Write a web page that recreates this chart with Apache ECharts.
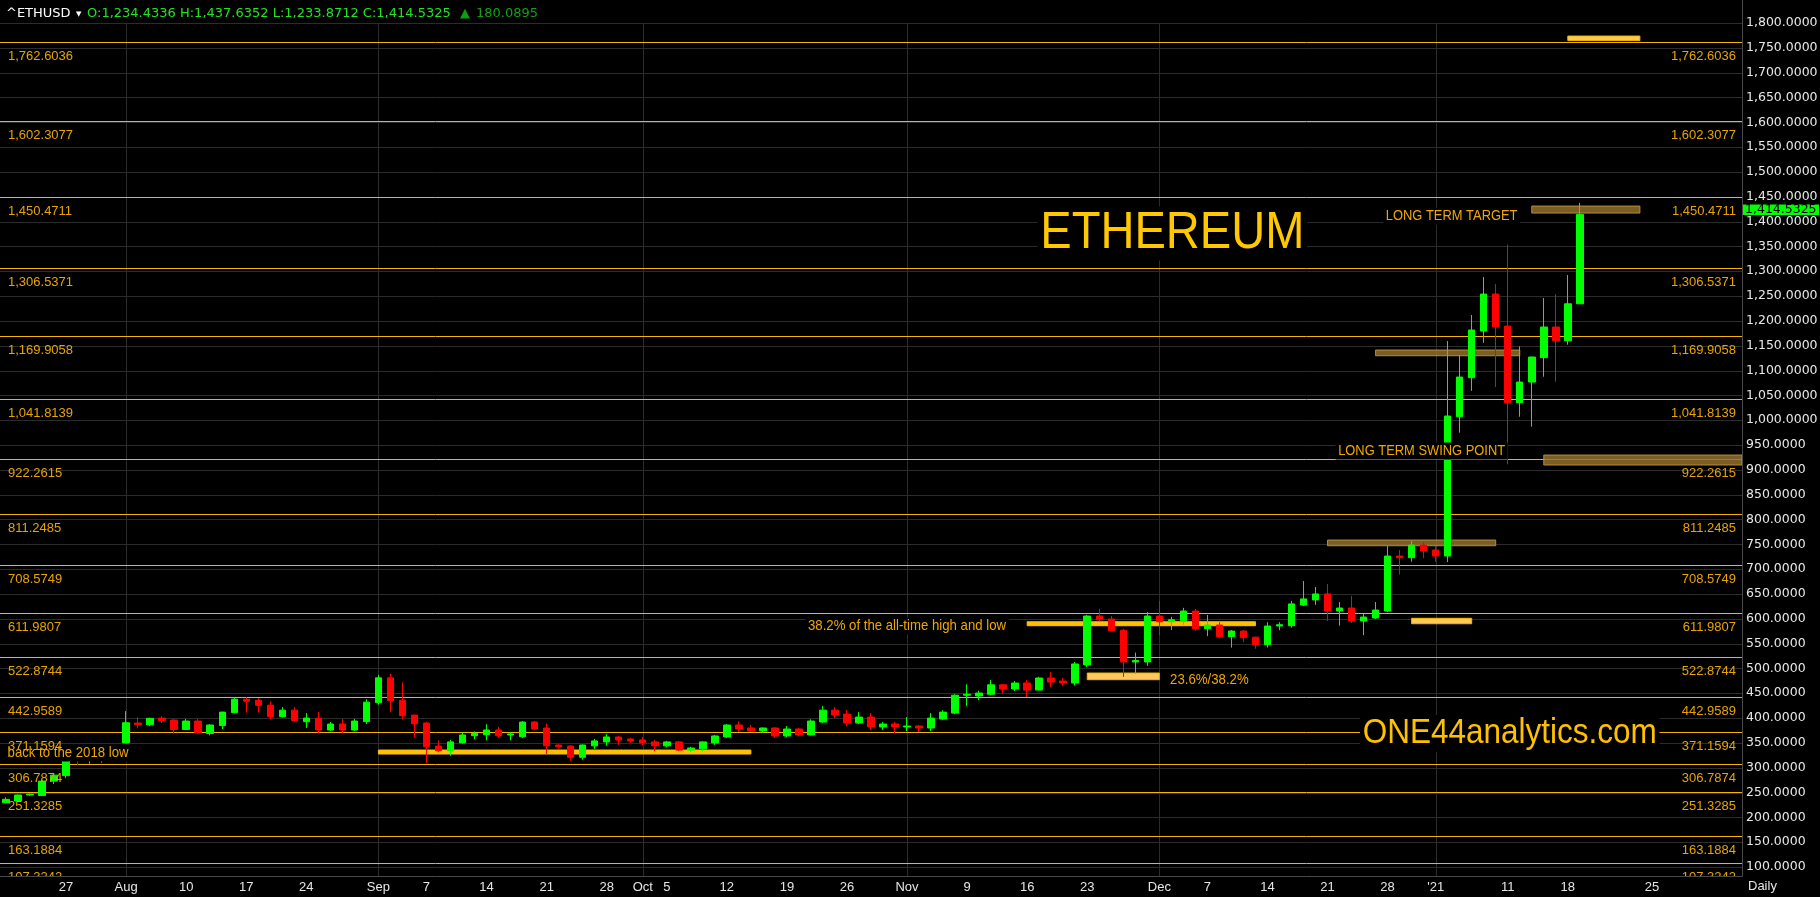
<!DOCTYPE html>
<html>
<head>
<meta charset="utf-8">
<script src="https://cdn.jsdelivr.net/npm/echarts@6/dist/echarts.min.js"></script>
<style>html,body{margin:0;padding:0;background:#000;}#c{width:1820px;height:897px;}</style>
</head>
<body>
<div id="c"></div>
<script>
// ---------- DATA ----------
const symbol = '^ETHUSD';
// daily candles (weekdays) 2020-07-20 .. 2021-01-19, then calendar days for the empty right margin
const firstDate = '2020-07-20';
const candleCount = 132;
const futureDays = 13;

const open = [229.4,233,245,244,273,284,330,318,324,330,
350,390,386.6,400,396,377,394,369,385,411,
438,435.7,426,403,416,392.7,399.5,376,388,376,
393,431,481,436,406,390,343.7,334,350,364.5,
366.5,376,366,362.4,392,380,345.7,343.7,321,344,
352,361.8,357.8,356,352,344,352,335.6,338,350,
362,386,380,374,380,364,378,366,392,416,
408,390,402,382,388,382,384,380,398,410,
446,444.5,448,467,458.5,470.6,456.5,480.7,474.6,470.6,
507,605.5,599.5,577,513,513,605.5,594,596,615.6,
580,587.4,564,575.3,563,548,585.4,586,627.7,638,
650,615.6,621.7,595.5,601.5,615.6,726.4,723,748.5,738.5,
726.4,1007,1085.5,1179.5,1254,1189.6,1035.2,1076.8,1126,1187.6,
1160,1234.4336];
const close = [236.3,245,246.5,273,285,313.5,318,326,332,338,
390.6,387,399.5,395,377,394,370.5,386,412,438,
434,425.7,403,416,395,400,376,388,376,394,
432,481,435,405,388.6,342.3,334.2,352,366,369,
376,364.5,368,392,378,344.3,342.3,321,345.7,354,
362,355.8,354,350,344.3,352,335.6,339.7,352,364,
386,378,374,380,364,378,366,394,416,406,
390,402,382,388,382,384,380,400,412,446,
448,450.5,467,458.5,470.6,456.5,480.7,472.6,470.6,509,
605.5,598,576,513,516,605.5,594,598,615.6,580,
587.4,564,575.3,562,548,585.4,588,630,640,650,
615.6,621.7,595.5,603.5,617.6,726.4,723,748.5,736.5,726.4,
1008.4,1086.9,1181.6,1254,1188,1035.2,1076.8,1127.2,1187.6,1160,
1234.443,1414.5325];
const low = [228.3,232,244,243,267,279,305,308,310,318,
349,379,384,390,369,376,369,365,378,410,
411,411,397,401,392,380,370,374,370,374,
388,427,412,397,361,309,331,324,349,357,
355,360,355,360,376,327.6,338,314,316,338,
344,346,350,345,333,341,333.6,331.6,333,346,
360,372,372,371,360,361,364,365,390,400,
383.6,388,376,376,370,374,372,374,396,408,
424,436,446,450,454.6,442,456,462,465,466,
502.8,595,574,483,489,505,567,577.3,588,576,
565,561,542,553,539.6,542,577,582,625.6,628,
595.5,586,591.5,567,599.5,613.6,689.2,714.9,722,714.9,
714.3,974.7,1059,1156,1067,911,1007,986.8,1087.5,1077.5,
1152,1233.8712];
const high = [240.4,246,248,275,286,315,338,334,338,340,
414,401.5,400.5,404,398,398,398,388,413,442,
442,440,434,422,422,410,412,392,398,398,
438,487,489,472,406,392.7,355,356,371,373,
387.6,382,372,394,394,389,347,345.5,347,358,
368,364,360,362,356,354,354,342,353,366,
388,393.5,386,381,382,384,380,397.5,424,422,
416,412,410,392,392,402,386,410,416,448,
468,455,476.7,468.6,474.7,476.7,483,493,480.7,513,
607.6,620,605.5,580,532,613.6,635.7,604,622,620,
607.6,593,577.3,577.3,564,593,593,636,676,664,
670,633.7,646,609.6,633.7,746.6,738.5,756.6,754.6,746.6,
1159.4,1131,1211.8,1288.3,1274,1353.6,1148.6,1128,1246,1254,
1292.3,1437.6352];

// right price axis ticks
const yTicks = [100,150,200,250,300,350,400,450,500,550,600,650,700,750,800,850,900,950,1000,
1050,1100,1150,1200,1250,1300,1350,1400,1450,1500,1550,1600,1650,1700,1750,1800];

// x axis tick labels (date -> text)
const xTickDates = ['2020-07-27','2020-08-03','2020-08-10','2020-08-17','2020-08-24','2020-09-01','2020-09-07',
'2020-09-14','2020-09-21','2020-09-28','2020-10-01','2020-10-05','2020-10-12','2020-10-19','2020-10-26',
'2020-11-02','2020-11-09','2020-11-16','2020-11-23','2020-12-01','2020-12-07','2020-12-14','2020-12-21',
'2020-12-28','2021-01-01','2021-01-11','2021-01-18','2021-01-25'];
const xTickTexts = ['27','Aug','10','17','24','Sep','7','14','21','28','Oct','5','12','19','26',
'Nov','9','16','23','Dec','7','14','21','28',"'21",'11','18','25'];

// month separators
const monthStarts = ['2020-08-03','2020-09-01','2020-10-01','2020-11-02','2020-12-01','2021-01-01'];

// fibonacci levels
const fibLevels = [1762.6036,1602.3077,1450.4711,1306.5371,1169.9058,1041.8139,922.2615,811.2485,
708.5749,611.9807,522.8744,442.9589,371.1594,306.7874,251.3285,163.1884,107.3242];

// zone bars: start date, end date (null = right edge), low, high, kind
const zoneStart = ['2021-01-13','2020-12-25','2021-01-14','2020-12-21','2020-09-01','2020-11-16','2021-01-18','2020-12-30','2020-11-23'];
const zoneEnd   = ['2021-01-24','2021-01-12',null,'2021-01-08','2020-10-14','2020-12-11','2021-01-24','2021-01-06','2020-12-01'];
const zoneLow   = [1417.2,1129.8,909.7,747.1,327.6,586,1764.6,590,477.3];
const zoneHigh  = [1431.3,1141.3,929.8,758.6,335.6,594,1773.7,600.9,490.7];
const zoneKind  = ['brown','brown','brown','brown','gold','gold','light','light','light'];

// annotations: text, anchor date, anchor value
const annoText  = ['ETHEREUM','ONE44analytics.com','LONG TERM TARGET','LONG TERM SWING POINT',
'38.2% of the all-time high and low','23.6%/38.2%','back to the 2018 low'];
const annoDate  = ['2020-12-02','2021-01-11','2021-01-04','2020-12-31','2020-11-02','2020-12-07','2020-07-27'];
const annoValue = [1376,369,1411,938,585.4,476.6,329.6];

// ---------- STYLES ----------
const annoStyle = [
  {size:52, scaleX:0.905, color:'#ffc800', dx:1},
  {size:35, scaleX:0.9, color:'#ffc000', dx:2},
  {size:15, scaleX:0.86, color:'#f0a800', dx:4},
  {size:15, scaleX:0.86, color:'#f0a800', dx:-2},
  {size:15, scaleX:0.88, color:'#f0a800', dx:0},
  {size:15, scaleX:0.88, color:'#f0a800', dx:2},
  {size:15, scaleX:0.88, color:'#f0a800', dx:2}
];
const zoneStyle = {
  brown:{fill:'rgba(150,115,45,0.82)', stroke:'rgba(190,150,65,0.9)'},
  gold:{fill:'#ffc000', stroke:'#ffc000'},
  light:{fill:'#ffc85a', stroke:'#f5b800'}
};
const FIB_LINE = '#f7b300', FIB_TXT = '#e8a400', GRID = '#2c2c2c';

// ---------- BUILD ----------
function buildDates(){
  const out=[]; const d=new Date(firstDate+'T00:00:00Z');
  while(out.length<candleCount){const w=d.getUTCDay(); if(w!==0&&w!==6) out.push(d.toISOString().slice(0,10)); d.setUTCDate(d.getUTCDate()+1);}
  for(let k=0;k<futureDays;k++){out.push(d.toISOString().slice(0,10)); d.setUTCDate(d.getUTCDate()+1);}
  return out;
}
const categories = buildDates();
const idx = d => categories.indexOf(d);
const xLabelMap = new Map(xTickDates.map((d,i)=>[d,xTickTexts[i]]));
const fmt4 = v => Number(v).toLocaleString('en-US',{minimumFractionDigits:4,maximumFractionDigits:4});
const candleData = open.map((o,i)=>[o,close[i],low[i],high[i]]);
const last = candleCount-1;
const change = close[last]-close[last-1];

function txtStyle(text, fill, font, align, valign, extra){
  return Object.assign({text:text, fill:fill, font:font, align:align, textAlign:align,
    verticalAlign:valign, textVerticalAlign:valign}, extra||{});
}

const chart = echarts.init(document.getElementById('c'), null, {renderer:'canvas', width:1820, height:897});
const option = {
  backgroundColor:'#000',
  animation:false,
  grid:{left:0, right:78, top:23, bottom:21, containLabel:false, outerBoundsMode:'none'},
  xAxis:{type:'category', data:categories, boundaryGap:true,
    axisLine:{show:true, lineStyle:{color:'#4a4a4a'}}, axisTick:{show:false}, splitLine:{show:false},
    axisLabel:{interval:(i,v)=>xLabelMap.has(v), formatter:v=>xLabelMap.get(v)||'',
      color:'#e6e6e6', fontFamily:'Liberation Sans', fontSize:13, margin:5}},
  yAxis:{type:'value', position:'right', min:81.9, max:1800,
    splitLine:{show:false}, axisTick:{show:false, customValues:yTicks},
    axisLine:{show:true, lineStyle:{color:'#4a4a4a'}},
    axisLabel:{customValues:yTicks, formatter:fmt4, color:'#e8e8e8', fontFamily:'DejaVu Sans',
      fontSize:12.5, margin:4, padding:[3,0,0,0]}},
  series:[
    { // grid lines
      type:'custom', z:0, silent:true, clip:true,
      data:yTicks.map(v=>[0,v]),
      renderItem:(p,api)=>{const cs=p.coordSys; const y=Math.round(api.coord([0,api.value(1)])[1])+0.5;
        return {type:'line', shape:{x1:cs.x,y1:y,x2:cs.x+cs.width,y2:y}, style:{stroke:GRID,lineWidth:1}};}
    },
    { // month separators
      type:'custom', z:0, silent:true, clip:true,
      data:monthStarts.map(d=>[idx(d),0]),
      renderItem:(p,api)=>{const cs=p.coordSys; const x=Math.round(api.coord([api.value(0),0])[0])+0.5;
        return {type:'line', shape:{x1:x,y1:cs.y,x2:x,y2:cs.y+cs.height}, style:{stroke:GRID,lineWidth:1}};}
    },
    { // fibonacci lines
      type:'custom', z:1, silent:true, clip:true,
      data:fibLevels.map(v=>[0,v]),
      renderItem:(p,api)=>{const cs=p.coordSys; const v=api.value(1);
        const y=Math.round(api.coord([0,v])[1])+0.5;
        return {type:'line', shape:{x1:cs.x,y1:y,x2:cs.x+cs.width,y2:y}, style:{stroke:FIB_LINE,lineWidth:1}};}
    },
    { // zones
      type:'custom', z:2, silent:true, clip:true,
      data:zoneStart.map((s,i)=>[idx(s), zoneEnd[i]===null?-1:idx(zoneEnd[i]), zoneLow[i], zoneHigh[i], i]),
      renderItem:(p,api)=>{const cs=p.coordSys; const i=api.value(4);
        const a=api.coord([api.value(0),api.value(3)]); const endI=api.value(1);
        const b=api.coord([endI<0?0:endI,api.value(2)]);
        const x2=endI<0?cs.x+cs.width:b[0];
        const st=zoneStyle[zoneKind[i]];
        return {type:'rect', shape:{x:a[0],y:a[1],width:x2-a[0],height:b[1]-a[1]},
          style:{fill:st.fill, stroke:st.stroke, lineWidth:1}};}
    },
    { // candles
      type:'candlestick', z:3, name:'ETHUSD', data:candleData, barWidth:7,
      itemStyle:{color:'#00ff00', color0:'#ff0000', borderColor:'#00ff00', borderColor0:'#ff0000', borderWidth:1}
    },
    { // annotations
      type:'custom', z:4, silent:true, clip:true,
      data:annoText.map((t,i)=>[idx(annoDate[i]), annoValue[i], i]),
      renderItem:(p,api)=>{const i=api.value(2); const s=annoStyle[i];
        const c=api.coord([api.value(0),api.value(1)]);
        return {type:'text', x:c[0]+s.dx, y:c[1], scaleX:s.scaleX,
          style:txtStyle(annoText[i], s.color, s.size+'px "Liberation Sans"', 'center','middle',
            {backgroundColor:'#000', textBackgroundColor:'#000', padding:[1,3,1,3], textPadding:[1,3,1,3]})};}
    },
    { // fibonacci labels (left and right)
      type:'custom', z:5, silent:true, clip:true,
      data:fibLevels.map(v=>[0,v]),
      renderItem:(p,api)=>{const cs=p.coordSys; const v=api.value(1);
        const y=Math.round(api.coord([0,v])[1])+0.5; const t=fmt4(v);
        const f='13px "Liberation Sans"';
        return {type:'group', children:[
          {type:'text', x:cs.x+8, y:y+14, style:txtStyle(t,FIB_TXT,f,'left','middle')},
          {type:'text', x:cs.x+cs.width-6, y:y+14, style:txtStyle(t,FIB_TXT,f,'right','middle')}
        ]};}
    },
    { // last price tag
      type:'custom', z:6, silent:true, clip:false,
      data:[[last, close[last]]],
      renderItem:(p,api)=>{const cs=p.coordSys; const y=api.coord([api.value(0),api.value(1)])[1];
        const x=cs.x+cs.width+1;
        return {type:'group', children:[
          {type:'rect', shape:{x:x,y:y-10,width:76,height:10.5}, style:{fill:'#00ff00'}},
          {type:'text', x:x+2, y:y-4.5, style:txtStyle(fmt4(api.value(1)),'#000','12.5px "DejaVu Sans"','left','middle')}
        ]};}
    }
  ],
  graphic:[
    {type:'text', left:6, top:7, style:{text:symbol, fill:'#ffffff', font:'13px "DejaVu Sans"'}},
    {type:'text', left:76, top:11, style:{text:'\u25BC', fill:'#ffffff', font:'7px "DejaVu Sans"'}},
    {type:'text', left:87, top:7, style:{text:'O:'+fmt4(open[last])+' H:'+fmt4(high[last])+' L:'+fmt4(low[last])+' C:'+fmt4(close[last]), fill:'#22e422', font:'13px "DejaVu Sans"'}},
    {type:'text', left:460, top:7, style:{text:'\u25B2', fill:'#0e9e0e', font:'13px "DejaVu Sans"'}},
    {type:'text', left:476, top:7, style:{text:fmt4(change), fill:'#14a014', font:'13px "DejaVu Sans"'}},
    {type:'text', left:1748, top:880, style:{text:'Daily', fill:'#e6e6e6', font:'13px "Liberation Sans"'}},
    {type:'line', shape:{x1:1742.5,y1:0,x2:1742.5,y2:23}, style:{stroke:'#4a4a4a', lineWidth:1}}
  ]
};
chart.setOption(option);
</script>
</body>
</html>
